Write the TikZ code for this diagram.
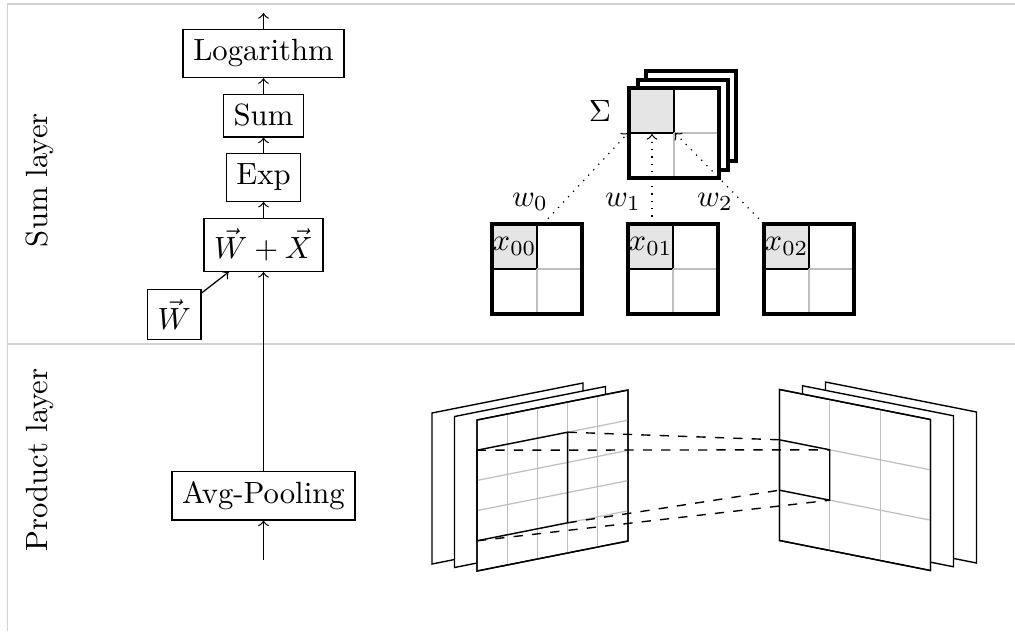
\documentclass[tikz,border=0pt]{standalone}
\begin{document}
\begin{tikzpicture}[x=0.3257pt,y=-0.3257pt,
  frame/.style={draw=gray!35,line width=0.5pt},
  opbox/.style={draw,line width=0.4pt,inner sep=0.333em},
  thickbox/.style={draw,line width=1.3pt},
  gridln/.style={draw=gray!50,line width=0.4pt},
  cellfill/.style={fill=gray!20,draw=black,line width=0.4pt},
  plane/.style={draw,fill=white,line width=0.45pt},
  outline/.style={draw,line width=0.45pt},
  region/.style={draw,line width=0.45pt},
  conn/.style={->},
  wline/.style={dotted,->},
  dline/.style={dashed,line width=0.45pt},
  lbl/.style={inner sep=0pt}]
\useasboundingbox (0,0) rectangle (1015,631);
% frame
\draw[frame] (7.5,4) -- (1015,4);
\draw[frame] (7.5,344) -- (1015,344);
\draw[frame] (7.5,4) -- (7.5,631);
% layer labels
\node[rotate=90] (sumlayer) at (40,180) {Sum layer};
\node[rotate=90] (prodlayer) at (40,460) {Product layer};
% left column
\node[opbox] (log) at (263.5,53.5) {Logarithm};
\node[opbox] (sum) at (263.5,115.5) {Sum};
\node[opbox] (exp) at (263.5,177.5) {Exp};
\node[opbox] (wx) at (263.5,245) {$\vec{W}+\vec{X}$};
\node[opbox] (w) at (174.2,314.2) {$\vec{W}$};
\node[opbox] (avg) at (263.5,495.5) {Avg-Pooling};
\coordinate (out) at (263.5,13);
\coordinate (in) at (263.5,560);
\draw[conn] (log) -- (out);
\draw[conn] (sum) -- (log);
\draw[conn] (exp) -- (sum);
\draw[conn] (wx) -- (exp);
\draw[conn] (w) -- (wx);
\draw[conn] (avg) -- (wx);
\draw[conn] (in) -- (avg);
% Sigma stack
\foreach \o in {17,8.5} {
  \fill[white] ({629+\o},{88-\o}) rectangle ++(90,90);
  \draw[thickbox] ({629+\o},{88-\o}) rectangle ++(90,90);
}
\fill[white] (629,88) rectangle (719,178);
\draw[cellfill] (629,88) rectangle (674,133);
\draw[gridln] (674,133) -- (719,133);
\draw[gridln] (674,133) -- (674,178);
\draw[thickbox] (629,88) rectangle (719,178);
\node (sigma) at (600,111) {$\Sigma$};
% x boxes
\foreach \bx/\lab in {492/00,628/01,764/02} {
  \draw[cellfill] (\bx,224) rectangle ({\bx+45},269);
  \draw[gridln] ({\bx+45},269) -- ({\bx+90},269);
  \draw[gridln] ({\bx+45},269) -- ({\bx+45},314);
  \draw[thickbox] (\bx,224) rectangle ({\bx+90},314);
  \node[lbl] (x\lab) at ({\bx+22.5},246.5) {$x_{\lab}$};
}
% weights
\coordinate (s0) at (543,224);
\coordinate (e0) at (628,133);
\coordinate (s1) at (652,224);
\coordinate (e1) at (652,134);
\coordinate (s2) at (764,224);
\coordinate (e2) at (675,133);
\draw[wline] (s0) -- (e0);
\draw[wline] (s1) -- (e1);
\draw[wline] (s2) -- (e2);
\node (w0) at (530,202) {$w_0$};
\node (w1) at (623,202) {$w_1$};
\node (w2) at (715,202) {$w_2$};
% product layer: left stack
\draw[plane] (432,413) -- (583,383) -- (583,534) -- (432,564) -- cycle;
\draw[plane] (454.5,416.5) -- (605.5,386.5) -- (605.5,537.5) -- (454.5,567.5) -- cycle;
\draw[plane] (477,420) -- (628,390) -- (628,541) -- (477,571) -- cycle;
\foreach \i in {1,...,4} {
  \draw[gridln] ({477+30.2*\i},{420-6*\i}) -- ({477+30.2*\i},{571-6*\i});
  \draw[gridln] (477,{420+30.2*\i}) -- (628,{390+30.2*\i});
}
\draw[outline] (477,420) -- (628,390) -- (628,541) -- (477,571) -- cycle;
\coordinate (LA) at (477,450.2);
\coordinate (LB) at (567.6,432.2);
\coordinate (LC) at (567.6,522.8);
\coordinate (LD) at (477,540.8);
\draw[region] (LA) -- (LB) -- (LC) -- (LD) -- cycle;
% right stack
\draw[plane] (825.5,382) -- (976.5,412) -- (976.5,563) -- (825.5,533) -- cycle;
\draw[plane] (802.5,385.75) -- (953.5,415.75) -- (953.5,566.75) -- (802.5,536.75) -- cycle;
\draw[plane] (779.5,389.5) -- (930.5,419.5) -- (930.5,570.5) -- (779.5,540.5) -- cycle;
\foreach \i in {1,2} {
  \draw[gridln] ({779.5+50.33*\i},{389.5+10*\i}) -- ({779.5+50.33*\i},{540.5+10*\i});
  \draw[gridln] (779.5,{389.5+50.33*\i}) -- (930.5,{419.5+50.33*\i});
}
\draw[outline] (779.5,389.5) -- (930.5,419.5) -- (930.5,570.5) -- (779.5,540.5) -- cycle;
\coordinate (RA) at (779.5,439.8);
\coordinate (RB) at (829.8,449.8);
\coordinate (RC) at (829.8,500.2);
\coordinate (RD) at (779.5,490.2);
\draw[region] (RA) -- (RB) -- (RC) -- (RD) -- cycle;
% dashed projections
\draw[dline] (LB) -- (RA);
\draw[dline] (LA) -- (RB);
\draw[dline] (LC) -- (RD);
\draw[dline] (LD) -- (RC);
\end{tikzpicture}
\end{document}
